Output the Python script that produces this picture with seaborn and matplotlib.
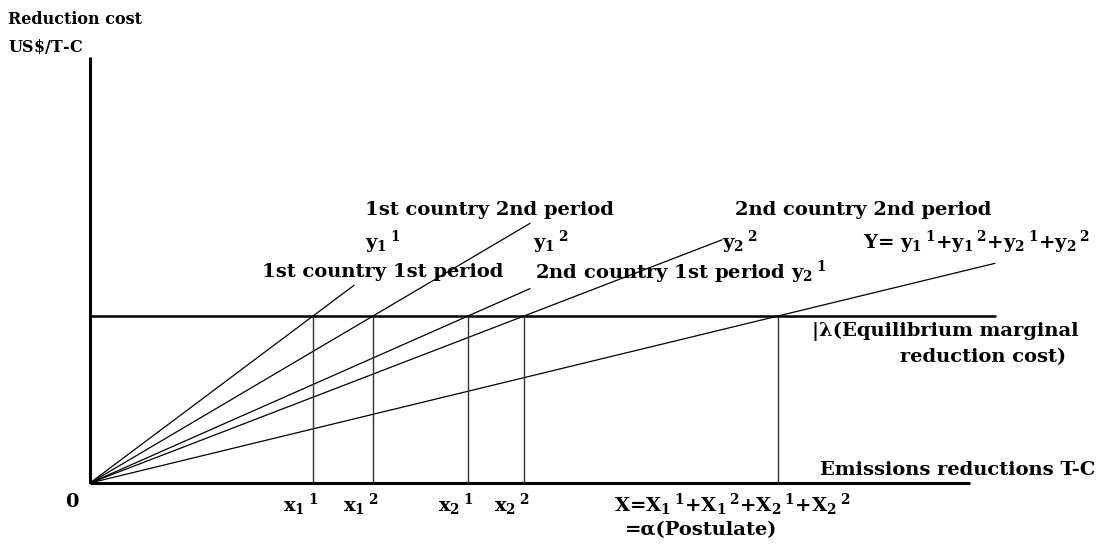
"""
Equilibrium marginal reduction cost diagram (two countries, two periods).
"""

import numpy as np
import pandas as pd
import matplotlib
matplotlib.use("Agg")
import matplotlib.pyplot as plt
import seaborn as sns

# --- data (diagram units: origin at 0,0) ---
curve_names = ["1st country 1st period", "1st country 2nd period",
               "2nd country 1st period", "2nd country 2nd period", "Total Y"]
lambda_level = 167                              # equilibrium marginal cost
x_at_lambda = [223, 283, 378, 434, 688]         # where each curve meets lambda
curve_end_x = [264, 440, 440, 632, 905]         # how far each ray is drawn
y_axis_top = 426
x_axis_end = 880
lambda_end = 905


def sub_sup(base, sub, sup):
    # subscript then superscript, written one after the other as in the source
    return base + "$_{%s}\\,{}^{%s}$" % (sub, sup)


x_labels = [sub_sup("x", 1, 1), sub_sup("x", 1, 2), sub_sup("x", 2, 1), sub_sup("x", 2, 2)]

sns.set_theme(style="white")
plt.rcParams["font.family"] = ["DejaVu Serif", "DejaVu Sans"]
plt.rcParams["font.weight"] = "bold"
plt.rcParams["text.color"] = "black"
plt.rcParams["mathtext.fontset"] = "custom"
plt.rcParams["mathtext.rm"] = "DejaVu Serif:bold"
plt.rcParams["mathtext.it"] = "DejaVu Serif:bold"
plt.rcParams["mathtext.bf"] = "DejaVu Serif:bold"


def main():
    fig = plt.figure(figsize=(11.14, 5.46), dpi=100)
    ax = fig.add_axes([0, 0, 1, 1])
    ax.set_xlim(-90, 1024)
    ax.set_ylim(-63, 483)
    ax.axis("off")

    # rays from origin
    rows = []
    for name, xl, xe in zip(curve_names, x_at_lambda, curve_end_x):
        slope = lambda_level / xl
        rows.append({"curve": name, "x": 0, "y": 0})
        rows.append({"curve": name, "x": xe, "y": slope * xe})
    df = pd.DataFrame(rows)
    sns.lineplot(data=df, x="x", y="y", units="curve", estimator=None,
                 color="black", lw=0.9, ax=ax, legend=False)

    # axes
    ax.plot([0, 0], [0, y_axis_top], color="black", lw=2.2, solid_capstyle="butt")
    ax.plot([0, x_axis_end], [0, 0], color="black", lw=2.2, solid_capstyle="butt")
    # lambda line
    ax.plot([0, lambda_end], [lambda_level, lambda_level], color="black", lw=1.8)
    # drop lines
    ax.vlines(x_at_lambda, 0, lambda_level, color="#333333", lw=1.0)

    fs = 14
    t = dict(ha="left", va="center", fontsize=fs, fontweight="bold", color="black")
    ax.text(-82, 464, "Reduction cost", ha="left", va="center", fontsize=11.5, fontweight="bold")
    ax.text(-82, 437, "US$\\$$/T-C", ha="left", va="center", fontsize=11.5, fontweight="bold")

    ax.text(275, 273, "1st country 2nd period", **t)
    ax.text(275, 241, sub_sup("y", 1, 1), **t)
    ax.text(443, 241, sub_sup("y", 1, 2), **t)
    ax.text(172, 211, "1st country 1st period", **t)
    ax.text(445, 211, "2nd country 1st period " + sub_sup("y", 2, 1), **t)
    ax.text(645, 273, "2nd country 2nd period", **t)
    ax.text(632, 241, sub_sup("y", 2, 2), **t)
    ax.text(773, 241, "Y= " + "+".join([sub_sup("y", 1, 1), sub_sup("y", 1, 2),
                                          sub_sup("y", 2, 1), sub_sup("y", 2, 2)]), **t)
    ax.text(722, 152, "|\u03bb(Equilibrium marginal", **t)
    ax.text(810, 126, "reduction cost)", **t)
    ax.text(730, 13, "Emissions reductions T-C", **t)

    ax.text(-18, -19, "0", ha="center", va="center", fontsize=fs, fontweight="bold")
    for xl, lab in zip(x_at_lambda[:4], x_labels):
        ax.text(xl - 30, -22, lab, **t)
    ax.text(524, -22, "X=" + "+".join([sub_sup("X", 1, 1), sub_sup("X", 1, 2),
                                        sub_sup("X", 2, 1), sub_sup("X", 2, 2)]), **t)
    ax.text(535, -47, "=\u03b1(Postulate)", **t)

    fig.savefig("out.png", dpi=100, facecolor="white")


if __name__ == "__main__":
    main()
